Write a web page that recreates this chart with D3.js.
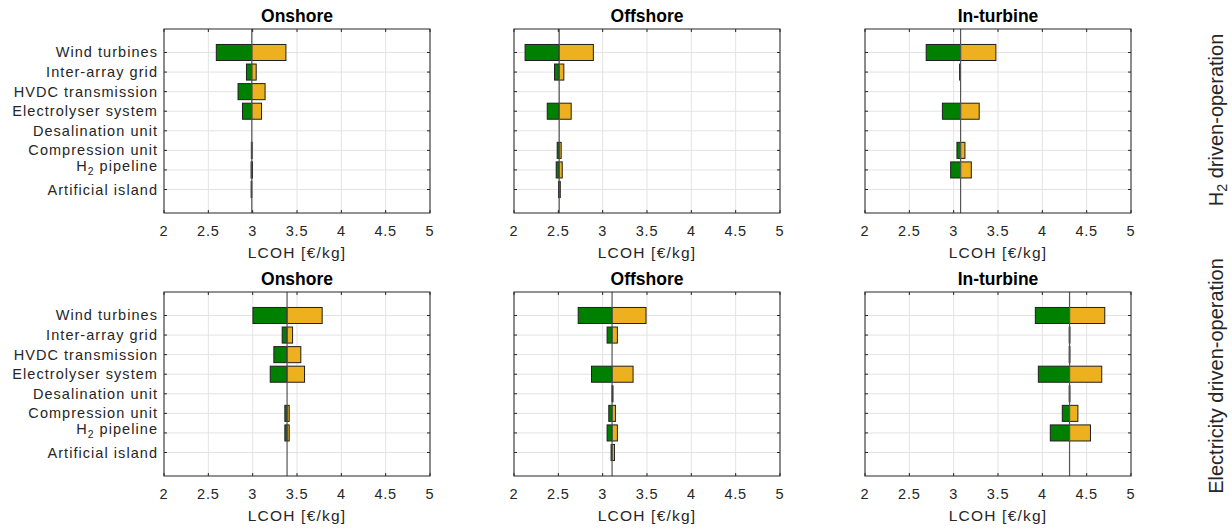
<!DOCTYPE html>
<html><head><meta charset="utf-8">
<script src="https://cdn.jsdelivr.net/npm/d3@7"></script>
<style>body{margin:0;background:#fff;} svg{display:block;font-family:"Liberation Sans",Arial,sans-serif;}</style>
</head><body>
<svg id="chart" width="1232" height="531"></svg>
<script>
const categories = ["Wind turbines","Inter-array grid","HVDC transmission","Electrolyser system","Desalination unit","Compression unit","H2 pipeline","Artificial island"];
const panelTitles = ["Onshore","Offshore","In-turbine"];
const rowLabels = ["H2 driven-operation","Electricity driven-operation"];
const xTicks = [2,2.5,3,3.5,4,4.5,5];
const xLabel = "LCOH [€/kg]";

// H2 driven-operation
const h2Base = [2.99, 2.51, 3.078];
const h2Low = [
  [2.59, 2.93, 2.835, 2.885, null, 2.985, 2.982, 2.983],
  [2.125, 2.457, null, 2.375, null, 2.487, 2.476, 2.503],
  [2.69, 3.068, null, 2.873, null, 3.037, 2.966, null]
];
const h2High = [
  [3.375, 3.04, 3.14, 3.10, null, 2.993, 2.998, 2.99],
  [2.895, 2.562, null, 2.645, null, 2.532, 2.544, 2.522],
  [3.476, 3.074, null, 3.288, null, 3.127, 3.199, null]
];
// Electricity driven-operation
const elBase = [3.388, 3.106, 4.307];
const elLow = [
  [3.003, 3.333, 3.239, 3.198, null, 3.363, 3.363, null],
  [2.724, 3.05, null, 2.874, 3.106, 3.069, 3.05, 3.095],
  [3.921, 4.303, 4.303, 3.955, 4.303, 4.225, 4.09, null]
];
const elHigh = [
  [3.784, 3.45, 3.543, 3.585, null, 3.412, 3.412, null],
  [3.489, 3.166, null, 3.343, 3.116, 3.144, 3.166, 3.133],
  [4.704, 4.311, 4.311, 4.67, 4.311, 4.401, 4.543, null]
];

const rowsData = [
  {base: h2Base, low: h2Low, high: h2High},
  {base: elBase, low: elLow, high: elHigh}
];

const svg = d3.select("#chart");
const panelLeft = [164, 514, 865];
const panelW = 266;
const rowTop = [29, 292];
const panelH = 184;
const green = "#008000", yellow = "#EDB120";

function subLabel(sel, text){
  const idx = text.indexOf("H2");
  if(idx < 0){ sel.text(text); return; }
  if(idx>0) sel.append("tspan").text(text.slice(0,idx));
  sel.append("tspan").text("H");
  sel.append("tspan").attr("dy", 4).attr("font-size", "0.72em").text("2");
  sel.append("tspan").attr("dy", -4).text(text.slice(idx+2));
}

rowsData.forEach((rd, r) => {
  panelTitles.forEach((title, p) => {
    const g = svg.append("g").attr("transform", `translate(${panelLeft[p]},${rowTop[r]})`);
    const x = d3.scaleLinear().domain([2,5]).range([0, panelW]);
    const y = d3.scaleLinear().domain([-0.2, 9.2]).range([0, panelH]);
    const step = y(1) - y(0);
    const bh = step * 0.82;

    g.selectAll(".vg").data(xTicks).enter().append("line")
      .attr("x1", d=>x(d)).attr("x2", d=>x(d)).attr("y1",0).attr("y2",panelH)
      .attr("stroke","#e3e3e3").attr("stroke-width",1);
    g.selectAll(".hg").data(categories).enter().append("line")
      .attr("x1",0).attr("x2",panelW).attr("y1",(d,i)=>y(i+1)).attr("y2",(d,i)=>y(i+1))
      .attr("stroke","#e3e3e3").attr("stroke-width",1);

    const base = rd.base[p];
    categories.forEach((c, i) => {
      const lo = rd.low[p][i], hi = rd.high[p][i];
      if(lo == null || hi == null) return;
      const yc = y(i+1);
      if(lo < base && hi > base){
        g.append("rect").attr("x", x(lo)).attr("width", x(base)-x(lo))
          .attr("y", yc-bh/2).attr("height", bh).attr("fill", green)
          .attr("stroke","#1f1f1f").attr("stroke-width",1);
        g.append("rect").attr("x", x(base)).attr("width", x(hi)-x(base))
          .attr("y", yc-bh/2).attr("height", bh).attr("fill", yellow)
          .attr("stroke","#1f1f1f").attr("stroke-width",1);
      } else {
        const a = Math.min(lo,hi), b = Math.max(lo,hi);
        g.append("rect").attr("x", x(a)).attr("width", Math.max(0.5, x(b)-x(a)))
          .attr("y", yc-bh/2).attr("height", bh).attr("fill", "#111")
          .attr("stroke","#111").attr("stroke-width",1);
      }
    });

    g.append("line").attr("x1", x(base)).attr("x2", x(base)).attr("y1",0).attr("y2",panelH)
      .attr("stroke","#555").attr("stroke-width",1.2);

    g.append("rect").attr("x",0).attr("y",0).attr("width",panelW).attr("height",panelH)
      .attr("fill","none").attr("stroke","#262626").attr("stroke-width",1);

    const tl = 3;
    xTicks.forEach(t => {
      g.append("line").attr("x1",x(t)).attr("x2",x(t)).attr("y1",panelH).attr("y2",panelH-tl).attr("stroke","#262626");
      g.append("line").attr("x1",x(t)).attr("x2",x(t)).attr("y1",0).attr("y2",tl).attr("stroke","#262626");
    });
    categories.forEach((c,i) => {
      g.append("line").attr("x1",0).attr("x2",tl).attr("y1",y(i+1)).attr("y2",y(i+1)).attr("stroke","#262626");
      g.append("line").attr("x1",panelW).attr("x2",panelW-tl).attr("y1",y(i+1)).attr("y2",y(i+1)).attr("stroke","#262626");
    });

    g.selectAll(".xt").data(xTicks).enter().append("text")
      .attr("x", d=>x(d)).attr("y", panelH+23).attr("text-anchor","middle")
      .attr("font-size",14.5).attr("letter-spacing",0.8).attr("fill","#262626").text(d=>d);
    g.append("text").attr("x", panelW/2).attr("y", panelH+45).attr("text-anchor","middle")
      .attr("font-size",15.5).attr("letter-spacing",1.2).attr("fill","#262626").text(xLabel);

    g.append("text").attr("x", panelW/2).attr("y", -7).attr("text-anchor","middle")
      .attr("font-size",17.5).attr("font-weight","bold").attr("fill","#000").text(title);

    if(p === 0){
      categories.forEach((c,i) => {
        const t = g.append("text").attr("x",-6).attr("y", y(i+1)+5).attr("text-anchor","end")
          .attr("font-size",14.5).attr("letter-spacing",1.05).attr("fill","#262626");
        if(c.startsWith("H2")) { t.attr("y", y(i+1)+1); subLabel(t, c); }
        else t.text(c);
      });
    }
  });
  const yc = r===0 ? 120 : 376;
  const t = svg.append("text").attr("transform", `translate(1223,${yc}) rotate(-90)`)
    .attr("text-anchor","middle").attr("font-size",20).attr("fill","#262626");
  subLabel(t, rowLabels[r]);
});
</script>
</body></html>
